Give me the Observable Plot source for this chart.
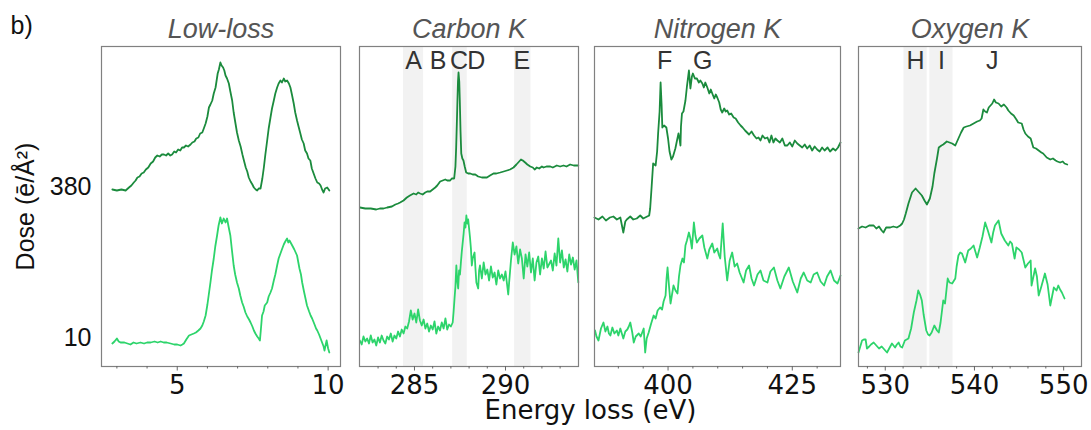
<!DOCTYPE html>
<html><head><meta charset="utf-8">
<script src="https://cdn.jsdelivr.net/npm/d3@7"></script>
<script src="https://cdn.jsdelivr.net/npm/@observablehq/plot@0.6"></script>
<style>
body{margin:0;background:#fff}
#root{position:relative;width:1091px;height:430px;overflow:hidden;background:#fff}
#root svg{position:absolute;top:0}
</style>
</head><body><div id="root"></div>
<script>
// ---------- DATA ----------
const panelTitles = ["Low-loss", "Carbon K", "Nitrogen K", "Oxygen K"];
const doseLabels = ["10", "380"];
const doseOffsets = [29, 180];

const lowLossDark = [[2.85,177],[3.0,176],[3.15,177],[3.29,176],[3.40,179],[3.48,181],[3.56,184],[3.62,186],[3.68,189],[3.75,190],[3.82,193],[3.89,194],[3.96,197],[4.04,199],[4.12,203],[4.2,205],[4.27,209],[4.34,211],[4.42,210],[4.49,212],[4.56,212],[4.63,211],[4.7,213],[4.77,211],[4.83,212],[4.9,215],[4.96,214],[5.03,217],[5.1,216],[5.16,219],[5.22,219],[5.29,221],[5.36,220],[5.44,222],[5.5,224],[5.57,225],[5.63,228],[5.7,229],[5.76,233],[5.83,234],[5.88,238],[5.94,243],[6.0,250],[6.05,259],[6.1,262],[6.16,266],[6.21,273],[6.27,279],[6.31,287],[6.34,293],[6.38,297],[6.43,304],[6.47,301],[6.52,299],[6.56,296],[6.6,291],[6.65,288],[6.71,283],[6.76,275],[6.82,266],[6.87,254],[6.93,243],[6.98,234],[7.04,226],[7.1,220],[7.16,212],[7.21,206],[7.27,199],[7.32,195],[7.37,189],[7.43,185],[7.49,182],[7.54,179],[7.6,177],[7.65,176],[7.7,178],[7.76,178],[7.82,188],[7.87,199],[7.92,212],[7.98,226],[8.03,238],[8.09,249],[8.14,258],[8.2,266],[8.25,273],[8.31,279],[8.36,283],[8.42,286],[8.47,284],[8.53,288],[8.58,285],[8.64,286],[8.7,283],[8.75,279],[8.8,272],[8.86,263],[8.91,254],[8.97,246],[9.02,240],[9.08,233],[9.13,227],[9.19,223],[9.24,216],[9.3,213],[9.35,208],[9.41,206],[9.46,198],[9.52,193],[9.58,188],[9.64,184],[9.7,183],[9.75,181],[9.8,177],[9.85,174],[9.9,178],[9.97,179],[10.04,176]];
const lowLossLight = [[2.85,23],[2.92,25],[3.0,28],[3.06,25],[3.12,24],[3.25,24],[3.35,23],[3.45,22],[3.55,24],[3.65,23],[3.78,24],[3.9,23],[4.0,24],[4.12,24],[4.25,25],[4.35,24],[4.45,25],[4.55,24],[4.65,24],[4.78,23],[4.9,22],[5.0,22],[5.11,21],[5.17,22],[5.22,23],[5.3,27],[5.39,31],[5.47,32],[5.55,33],[5.62,34],[5.7,36],[5.77,38],[5.83,41],[5.88,45],[5.94,51],[6.0,62],[6.05,73],[6.10,84],[6.15,96],[6.21,108],[6.26,120],[6.32,131],[6.37,141],[6.43,149],[6.48,143],[6.54,148],[6.6,144],[6.65,148],[6.7,140],[6.76,131],[6.81,117],[6.87,101],[6.92,92],[6.98,84],[7.04,78],[7.09,71],[7.15,64],[7.2,60],[7.26,54],[7.32,50],[7.38,47],[7.43,44],[7.49,40],[7.54,36],[7.59,33],[7.65,30],[7.7,28],[7.74,26],[7.78,40],[7.81,51],[7.86,55],[7.9,61],[7.98,64],[8.03,70],[8.09,74],[8.14,78],[8.2,86],[8.25,92],[8.31,101],[8.36,108],[8.42,113],[8.48,118],[8.53,122],[8.58,125],[8.64,128],[8.68,124],[8.72,126],[8.81,121],[8.88,117],[8.97,111],[9.05,98],[9.1,92],[9.14,84],[9.2,75],[9.25,68],[9.3,61],[9.37,55],[9.42,51],[9.47,48],[9.55,42],[9.6,38],[9.64,36],[9.7,32],[9.75,28],[9.8,24],[9.85,20],[9.88,16],[9.92,22],[9.95,26],[10.0,18],[10.04,14]];

const carbonDark = [[282.0,159],[282.3,158],[282.6,158],[282.9,157],[283.1,158],[283.3,158],[283.5,159],[283.76,160],[283.95,162],[284.1,163],[284.21,164],[284.4,166],[284.58,169],[284.75,171],[284.95,173],[285.1,172],[285.2,174],[285.31,173],[285.45,172],[285.59,174],[285.7,175],[285.86,175],[286.0,177],[286.14,179],[286.25,181],[286.41,185],[286.55,186],[286.69,187],[286.8,186],[286.96,186],[287.05,188],[287.18,188],[287.25,200],[287.29,219],[287.33,245],[287.36,266],[287.39,285],[287.42,294],[287.46,285],[287.49,266],[287.53,235],[287.57,213],[287.63,208],[287.69,206],[287.76,200],[287.84,194],[287.95,193],[288.06,193],[288.2,192],[288.34,192],[288.5,190],[288.7,189],[288.85,189],[288.98,189],[289.15,191],[289.34,193],[289.5,193],[289.71,194],[289.9,195],[290.08,196],[290.25,197],[290.44,199],[290.6,202],[290.75,205],[290.85,207],[290.95,206],[291.08,204],[291.2,202],[291.36,200],[291.5,199],[291.6,197],[291.72,199],[291.85,198],[292.0,200],[292.09,199],[292.25,200],[292.46,200],[292.6,199],[292.82,201],[293.0,200],[293.19,201],[293.35,200],[293.55,202],[293.75,201],[294.0,201]];
const carbonLight = [[282.0,26],[282.1,22],[282.2,30],[282.3,25],[282.4,28],[282.5,23],[282.6,31],[282.7,24],[282.8,27],[282.9,21],[283.0,29],[283.1,24],[283.2,31],[283.3,26],[283.4,23],[283.5,30],[283.6,27],[283.7,33],[283.8,25],[283.9,31],[284.0,28],[284.1,35],[284.2,30],[284.3,37],[284.4,33],[284.5,40],[284.6,38],[284.7,45],[284.8,56],[284.9,47],[285.0,53],[285.1,44],[285.2,57],[285.3,46],[285.4,41],[285.5,47],[285.6,38],[285.7,43],[285.8,35],[285.9,41],[286.0,37],[286.1,45],[286.2,33],[286.3,40],[286.4,36],[286.5,44],[286.6,38],[286.7,48],[286.8,37],[286.9,42],[287.0,40],[287.1,44],[287.15,55],[287.2,68],[287.25,80],[287.3,101],[287.35,86],[287.4,78],[287.45,96],[287.5,92],[287.55,104],[287.6,115],[287.7,133],[287.75,144],[287.8,139],[287.85,151],[287.9,143],[287.95,147],[288.0,138],[288.05,129],[288.1,118],[288.15,101],[288.2,108],[288.3,114],[288.35,98],[288.4,84],[288.5,78],[288.55,96],[288.6,101],[288.7,88],[288.8,104],[288.9,92],[289.0,97],[289.1,86],[289.2,100],[289.3,89],[289.4,94],[289.5,82],[289.6,96],[289.7,88],[289.8,92],[289.9,86],[290.0,95],[290.1,80],[290.15,72],[290.2,84],[290.3,106],[290.4,124],[290.5,112],[290.6,120],[290.7,103],[290.8,117],[290.9,108],[291.0,88],[291.1,112],[291.2,100],[291.3,114],[291.4,94],[291.5,108],[291.6,86],[291.7,104],[291.8,110],[291.9,92],[292.0,108],[292.1,98],[292.2,115],[292.3,99],[292.5,106],[292.6,96],[292.7,113],[292.8,101],[292.9,128],[293.0,104],[293.1,116],[293.2,99],[293.3,107],[293.4,95],[293.5,112],[293.6,102],[293.7,109],[293.8,97],[293.9,106],[294.0,84]];

const nitrogenDark = [[385.2,149],[386,147],[386.8,150],[387.5,146],[388.3,149],[389,150],[389.7,147],[390.4,149],[391,134],[391.4,145],[391.7,147],[392.4,150],[393,147],[393.7,148],[394.4,151],[395,148],[395.8,150],[396.2,151],[396.4,158],[396.7,180],[397,203],[397.5,201],[397.8,215],[398,233],[398.3,255],[398.5,284],[398.7,262],[398.85,239],[399.2,241],[399.66,239],[400.0,228],[400.3,215],[400.67,207],[401.0,210],[401.47,218],[401.8,226],[402.1,233],[402.3,228],[402.5,221],[402.6,240],[402.8,253],[403.1,255],[403.5,266],[403.8,280],[404.2,296],[404.5,278],[404.8,290],[405.0,293],[405.4,288],[405.8,288],[406.2,284],[406.5,286],[406.9,283],[407.2,279],[407.5,284],[407.9,279],[408.3,273],[408.6,277],[408.9,273],[409.3,268],[409.6,272],[409.9,269],[410.3,264],[410.6,257],[410.9,254],[411.3,258],[411.6,255],[411.9,256],[412.3,252],[412.7,253],[413.2,249],[413.6,248],[414.1,244],[414.6,241],[415.0,239],[415.5,236],[415.9,234],[416.3,232],[416.8,235],[417.3,231],[417.8,228],[418.2,229],[418.6,226],[419.0,231],[419.5,228],[420.0,229],[420.4,224],[420.8,231],[421.2,224],[421.6,228],[422.0,226],[422.5,224],[423.0,228],[423.5,221],[424.0,221],[424.5,224],[425.0,220],[425.5,226],[426.0,223],[426.5,221],[427.0,219],[427.5,222],[428.0,218],[428.5,221],[429.0,216],[429.5,220],[430.0,217],[430.5,215],[431.0,219],[431.5,216],[432.1,219],[432.6,215],[433.2,218],[433.7,216],[434.2,219],[434.7,224]];
const nitrogenLight = [[385.3,36],[385.6,30],[386.0,26],[386.5,38],[387.0,44],[387.4,35],[387.8,40],[388.1,33],[388.4,31],[388.8,39],[389.2,33],[389.7,36],[390.0,31],[390.4,38],[391.0,28],[391.4,35],[391.8,37],[392.1,40],[392.4,44],[392.8,34],[393.1,24],[393.5,30],[394.1,33],[394.5,30],[395.1,38],[395.4,14],[395.7,28],[396.1,34],[396.6,43],[397.1,51],[397.5,48],[397.9,56],[398.4,59],[398.8,57],[399.1,65],[399.5,71],[399.7,88],[399.9,99],[400.2,80],[400.5,63],[400.8,72],[401.1,81],[401.5,76],[401.9,73],[402.2,90],[402.5,101],[402.9,108],[403.2,104],[403.5,121],[403.8,126],[404.2,134],[404.5,128],[404.8,118],[405.2,144],[405.5,131],[405.8,124],[406.3,128],[406.9,131],[407.3,119],[407.9,108],[408.3,117],[408.9,123],[409.3,114],[409.9,118],[410.2,112],[410.5,108],[411.0,143],[411.4,110],[411.9,86],[412.4,106],[412.9,114],[413.4,100],[413.9,103],[414.4,94],[415.2,84],[415.7,96],[416.3,101],[416.8,88],[417.3,81],[418.0,92],[418.6,96],[419.2,86],[420.0,84],[420.6,95],[421.3,99],[422.0,86],[422.6,78],[423.4,90],[424.3,99],[425.1,85],[426.0,74],[426.7,88],[427.3,94],[428.0,86],[428.7,84],[429.3,92],[430.0,94],[430.7,85],[431.4,81],[432.0,90],[432.7,96],[433.4,86],[434.1,83],[434.7,91]];

const oxygenDark = [[527.0,138],[527.4,140],[527.8,139],[528.2,141],[528.7,141],[529.0,138],[529.3,140],[529.6,136],[529.8,134],[530.1,139],[530.56,139],[530.9,140],[531.3,139],[531.68,141],[531.9,143],[532.1,147],[532.3,153],[532.6,163],[533.0,174],[533.4,178],[533.7,175],[534.1,171],[534.4,166],[534.67,162],[535.0,168],[535.3,180],[535.5,193],[535.8,208],[536.0,219],[536.3,221],[536.5,222],[536.9,225],[537.2,224],[537.5,223],[537.85,221],[538.2,228],[538.5,234],[538.8,239],[539.1,240],[539.5,241],[539.9,243],[540.3,245],[540.6,246],[540.8,248],[541.0,257],[541.2,255],[541.4,254],[541.6,259],[541.8,261],[542.0,263],[542.2,267],[542.4,264],[542.7,263],[543.0,260],[543.3,262],[543.6,259],[543.8,256],[544.1,253],[544.4,251],[544.7,247],[544.9,244],[545.3,243],[545.5,237],[545.7,233],[546.0,230],[546.3,228],[546.6,219],[546.9,218],[547.2,216],[547.5,214],[547.7,213],[548.1,209],[548.5,207],[548.8,208],[549.1,206],[549.3,205],[549.6,204],[549.9,205],[550.1,203],[550.4,202]];
const oxygenLight = [[527.0,14],[527.2,20],[527.4,26],[527.6,27],[527.8,27],[527.95,18],[528.2,20],[528.4,22],[528.7,24],[529.0,21],[529.3,18],[529.6,20],[529.9,17],[530.2,14],[530.5,19],[530.75,23],[531.1,19],[531.3,22],[531.5,24],[531.7,20],[531.9,19],[532.2,26],[532.4,27],[532.6,28],[532.9,38],[533.2,54],[533.5,66],[533.7,76],[533.9,72],[534.1,66],[534.3,52],[534.6,36],[534.8,32],[534.97,31],[535.2,34],[535.5,41],[535.8,36],[536.0,34],[536.2,44],[536.5,66],[536.7,63],[537.0,88],[537.2,84],[537.5,83],[537.85,88],[538.0,100],[538.2,111],[538.4,114],[538.6,113],[538.96,104],[539.3,116],[539.6,118],[539.9,121],[540.3,109],[540.6,119],[540.9,130],[541.2,144],[541.5,136],[541.9,124],[542.1,134],[542.3,141],[542.7,146],[543.0,133],[543.4,126],[543.8,121],[544.0,125],[544.2,123],[544.5,108],[544.7,119],[545.0,117],[545.3,114],[545.7,99],[546.0,103],[546.3,106],[546.4,81],[546.8,98],[547.0,90],[547.2,71],[547.5,80],[547.9,93],[548.2,82],[548.5,61],[548.7,70],[548.9,79],[549.2,76],[549.4,81],[549.6,77],[549.8,74],[550.1,68]];

const carbonBands = [[284.4,285.5],[287.1,287.9],[290.5,291.4]];
const oxygenBands = [[532.1,534.7],[535.0,537.6]];
const carbonPeaks = [["A",284.95],["B",286.3],["C",287.45],["D",288.4],["E",290.9]];
const nitrogenPeaks = [["F",399.3],["G",407.0]];
const oxygenPeaks = [["H",533.4],["I",536.3],["J",542.0]];

const majorTicks = [[5,10],[285,290],[400,425],[530,540,550]];
const minorTicks = [[3,4,6,7,8,9],[283,284,286,287,288,289,291,292,293],[390,395,405,410,415,420,430],[528,532,534,536,538,542,544,546,548]];
const xDomains = [[2.49,10.41],[281.98,294.01],[385.2,434.7],[527.0,552.0]];

// ---------- LAYOUT / STYLE ----------
const DARK = "#1b8b3d", LIGHT = "#2dd46b";
const layout = [
  {left: 0,   ml: 101, fw: 239},
  {left: 349, ml: 10,  fw: 219},
  {left: 584, ml: 10,  fw: 246},
  {left: 848, ml: 10,  fw: 223}
];
const series = [
  {dark: lowLossDark, light: lowLossLight},
  {dark: carbonDark, light: carbonLight, bands: carbonBands, peaks: carbonPeaks},
  {dark: nitrogenDark, light: nitrogenLight, peaks: nitrogenPeaks},
  {dark: oxygenDark, light: oxygenLight, bands: oxygenBands, peaks: oxygenPeaks}
];

const root = document.getElementById("root");
series.forEach((s, i) => {
  const L = layout[i];
  const marks = [];
  if (s.bands) marks.push(Plot.rect(s.bands, {x1: d => d[0], x2: d => d[1], fill: "#f2f2f2"}));
  marks.push(Plot.line(s.light, {x: d => d[0], y: d => d[1], stroke: LIGHT, strokeWidth: 1.8}));
  marks.push(Plot.line(s.dark, {x: d => d[0], y: d => d[1], stroke: DARK, strokeWidth: 1.8}));
  marks.push(Plot.frame({stroke: "#808080", strokeWidth: 1.2}));
  marks.push(Plot.axisX({ticks: majorTicks[i], tickSize: 4.5, tickPadding: 5, fontSize: 26, fontFamily: "DejaVu Sans", stroke: "#666", fill: "#111", label: null, tickFormat: d => String(d)}));
  marks.push(Plot.axisX({ticks: minorTicks[i], tickSize: 2.5, text: null, stroke: "#666", label: null}));
  marks.push(Plot.text([panelTitles[i]], {text: d => d, frameAnchor: "top", lineAnchor: "bottom", dy: -9, fontSize: 27, fontStyle: "italic", fill: "#555", fontFamily: "Liberation Sans"}));
  if (s.peaks) marks.push(Plot.text(s.peaks, {x: d => d[1], text: d => d[0], frameAnchor: "top", lineAnchor: "bottom", dy: 22, fontSize: 25, fill: "#333", fontFamily: "Liberation Sans"}));
  if (i === 0) {
    marks.push(Plot.axisY({ticks: doseOffsets, tickFormat: d => doseLabels[doseOffsets.indexOf(d)], tickSize: 0, tickPadding: 10, fontSize: 25, fontFamily: "Liberation Sans", fill: "#111", label: null}));
    marks.push(Plot.text(["Dose (ē/Å²)"], {text: d => d, frameAnchor: "left", rotate: -90, lineAnchor: "bottom", textAnchor: "middle", dx: -67.5, fontSize: 25, fontFamily: "Liberation Sans", fill: "#111"}));
    marks.push(Plot.text(["b)"], {text: d => d, frameAnchor: "top-left", textAnchor: "start", lineAnchor: "bottom", dx: -91, dy: -13, fontSize: 25, fontFamily: "Liberation Sans", fill: "#111"}));
  }
  if (i === 1) {
    marks.push(Plot.text(["Energy loss (eV)"], {text: d => d, frameAnchor: "bottom-left", textAnchor: "middle", lineAnchor: "bottom", dx: 231, dy: 52, fontSize: 26, fontFamily: "DejaVu Sans", fill: "#111"}));
  }
  const chart = Plot.plot({
    width: L.ml + L.fw + 10,
    height: 430,
    marginLeft: L.ml,
    marginRight: 10,
    marginTop: 46,
    marginBottom: 64,
    x: {domain: xDomains[i]},
    y: {domain: [0, 320], axis: i === 0 ? undefined : null},
    style: {background: "transparent", overflow: "visible", fontFamily: "DejaVu Sans"},
    marks
  });
  chart.style.left = L.left + "px";
  chart.style.position = "absolute";
  chart.style.top = "0px";
  root.appendChild(chart);
});
</script>
</body></html>
